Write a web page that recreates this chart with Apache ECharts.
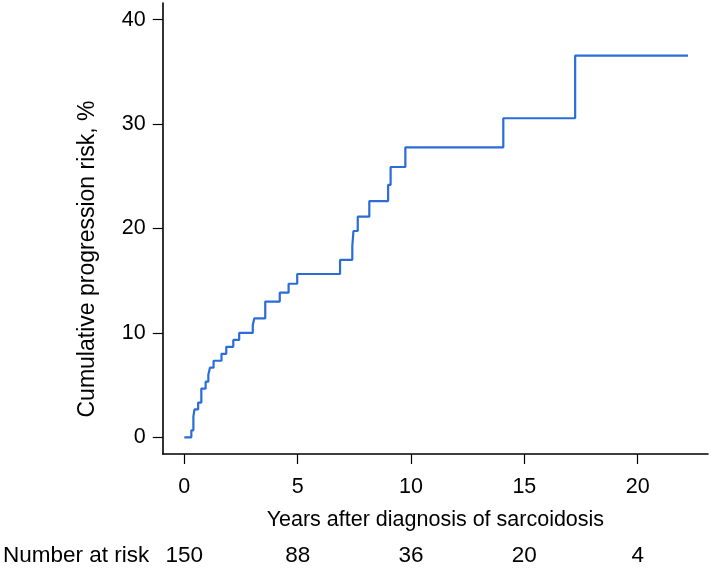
<!DOCTYPE html>
<html>
<head>
<meta charset="utf-8">
<script src="https://cdn.jsdelivr.net/npm/echarts@6/dist/echarts.min.js"></script>
<style>
html,body{margin:0;padding:0;background:#fff;}
#chart{width:711px;height:570px;}
</style>
</head>
<body>
<div id="chart"></div>
<script>
// Kaplan-Meier style cumulative progression risk (step at each event time)
var years = [0, 0.31, 0.40, 0.45, 0.61, 0.75, 0.94, 1.06, 1.13, 1.29, 1.64, 1.85, 2.16, 2.42,
             3.02, 3.09, 3.57, 4.21, 4.60, 4.98, 6.87, 7.41, 7.46, 7.65, 8.16, 8.99, 9.10,
             9.75, 14.07, 17.24, 22.22];
var riskPct = [0, 0.67, 2.0, 2.67, 3.33, 4.67, 5.33, 6.0, 6.67, 7.33, 8.0, 8.67, 9.33, 10.0,
               10.76, 11.4, 13.0, 13.85, 14.71, 15.64, 17.0, 18.3, 19.76, 21.13, 22.63, 24.17, 25.89,
               27.78, 30.56, 36.56, 36.56];
var xTicks = [0, 5, 10, 15, 20];
var yTicks = [0, 10, 20, 30, 40];
var numberAtRisk = [150, 88, 36, 20, 4];

var FONT = "'Liberation Sans', Arial, Helvetica, sans-serif";
var chart = echarts.init(document.getElementById('chart'), null, {renderer: 'canvas'});
var seriesData = years.map(function (t, i) { return [t, riskPct[i]]; });

chart.setOption({
  animation: false,
  backgroundColor: '#ffffff',
  grid: {left: 160.3, right: 3, top: 3, bottom: 116, containLabel: false},
  xAxis: [{
    type: 'value',
    min: -0.95, max: 23.1,
    position: 'bottom',
    splitLine: {show: false},
    axisLine: {show: true, onZero: false, lineStyle: {color: '#000', width: 1.6}},
    axisTick: {show: true, customValues: xTicks, length: 10, lineStyle: {color: '#000', width: 1.2}},
    axisLabel: {show: true, customValues: xTicks, margin: 22, color: '#000', fontSize: 21.5, fontFamily: FONT},
    name: 'Years after diagnosis of sarcoidosis',
    nameLocation: 'middle',
    nameGap: 55,
    nameTextStyle: {color: '#000', fontSize: 21.5, fontFamily: FONT}
  }, {
    type: 'value',
    min: -0.95, max: 23.1,
    position: 'bottom',
    offset: 102,
    splitLine: {show: false},
    axisLine: {show: false, onZero: false},
    axisTick: {show: false},
    axisLabel: {
      show: true, customValues: xTicks, margin: 0, verticalAlign: 'middle',
      color: '#000', fontSize: 22.5, fontFamily: FONT,
      formatter: function (v) {
        var i = xTicks.indexOf(Math.round(v));
        return i >= 0 ? String(numberAtRisk[i]) : '';
      }
    },
    name: 'Number at risk',
    nameLocation: 'start',
    nameGap: 13.5,
    nameTextStyle: {color: '#000', fontSize: 22.5, fontFamily: FONT, align: 'right', verticalAlign: 'middle'}
  }],
  yAxis: {
    type: 'value',
    min: -1.6, max: 41.6,
    splitLine: {show: false},
    axisLine: {show: true, onZero: false, lineStyle: {color: '#000', width: 1.6}},
    axisTick: {show: true, customValues: yTicks, length: 10, lineStyle: {color: '#000', width: 1.2}},
    axisLabel: {show: true, customValues: yTicks, margin: 17, color: '#000', fontSize: 21.5, fontFamily: FONT}
  },
  graphic: [{
    type: 'text',
    x: 88, y: 259,
    rotation: Math.PI / 2,
    silent: true,
    style: {
      text: 'Cumulative progression risk, %',
      x: 0, y: 0,
      align: 'center', verticalAlign: 'middle',
      fill: '#000',
      font: "23px 'Liberation Sans', Arial, sans-serif"
    }
  }],
  series: [{
    type: 'line',
    xAxisIndex: 0,
    step: 'end',
    data: seriesData,
    showSymbol: false,
    symbol: 'none',
    lineStyle: {color: '#2a6dd8', width: 2.2},
    emphasis: {disabled: true}
  }]
});
</script>
</body>
</html>
